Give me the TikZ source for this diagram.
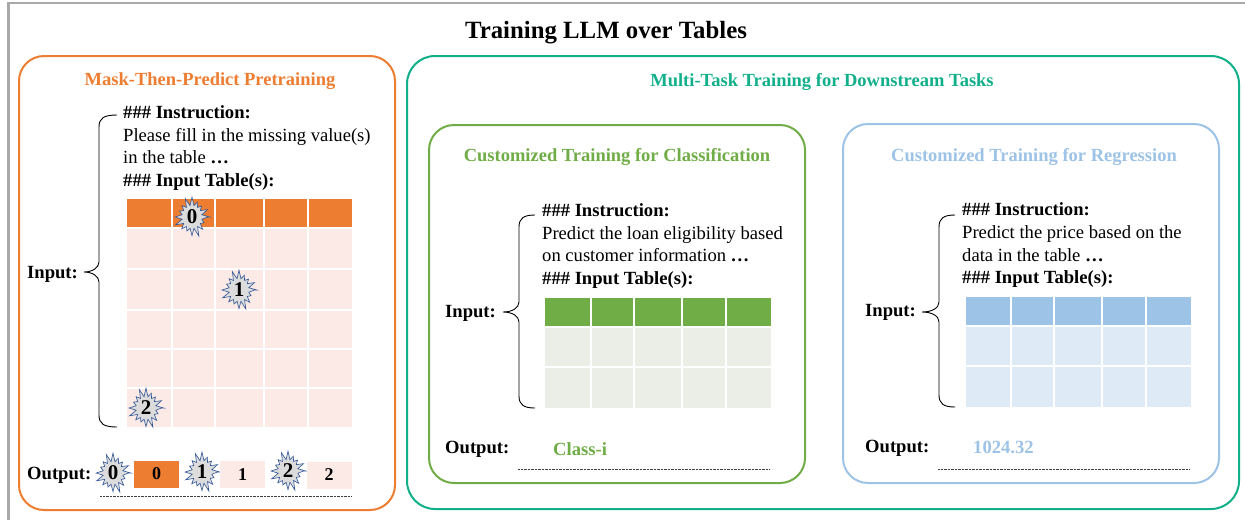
\documentclass[tikz,border=0pt]{standalone}
\usepackage{fontspec}
\setmainfont{Liberation Serif}
\usetikzlibrary{calc}
\definecolor{cOrange}{HTML}{ED7D31}
\definecolor{cTeal}{HTML}{12B08A}
\definecolor{cGreen}{HTML}{70AD47}
\definecolor{cBlue}{HTML}{9DC3E6}
\definecolor{cPink}{HTML}{FBEAE6}
\definecolor{cGreenBody}{HTML}{EAEEE7}
\definecolor{cBlueBody}{HTML}{DEEAF6}
\definecolor{cFrame}{HTML}{A9A9A9}
\definecolor{cBurstLine}{HTML}{2F5597}
\definecolor{cBurstFill}{HTML}{DCDCDC}
\newcommand\burstat[4]{%
  \draw[burstshape] plot[domain=0:360, samples=33] ({#2+brad(\x)*cos(\x)}, {#3+1.15*brad(\x)*sin(\x)}) -- cycle;
  \node[bursttext] (#1) at (#2,#3) {#4};
}
\newcommand\mkbrace[6]{% endx, topy, vertx, tipx, tipy, boty
  \draw[brace] (#1,#2) .. controls (#3+5,#2) and (#3,#2+3) .. (#3,#2+12)
    -- (#3,#5-10) .. controls (#3,#5-4) and (#3-7,#5) .. (#4,#5)
    .. controls (#3-7,#5) and (#3,#5+4) .. (#3,#5+10)
    -- (#3,#6-12) .. controls (#3,#6-3) and (#3+5,#6) .. (#1,#6);
}
\begin{document}
\begin{tikzpicture}[x=1pt,y=-1pt,
  panel/.style={line width=2pt, rounded corners=25pt},
  ptitle/.style={font=\fontsize{18.5}{22}\selectfont\bfseries, anchor=base, inner sep=0},
  body/.style={font=\fontsize{18.6}{22}\selectfont, anchor=base west, inner sep=0},
  bodyb/.style={font=\fontsize{18.6}{22}\selectfont\bfseries, anchor=base west, inner sep=0},
  brace/.style={draw=black, line width=0.9pt},
  dotline/.style={draw=black!75, line width=0.8pt, dash pattern=on 0.7pt off 0.7pt},
  burstshape/.style={draw=cBurstLine, fill=cBurstFill, line width=0.6pt, line join=miter},
  bursttext/.style={font=\fontsize{21}{22}\selectfont\bfseries, inner sep=0},
  cellline/.style={draw=white, line width=1.2pt},
  outbox/.style={minimum width=45pt, minimum height=27pt, inner sep=0, font=\fontsize{18}{20}\selectfont\bfseries},
  declare function={brad(\a)=(isodd(round(\a/11.25))?10:(15.5+2.5*sin(137*round(\a/11.25))));}
]
\useasboundingbox (0,0) rectangle (1245,520);
\fill[white] (0,0) rectangle (1245,520);
% frame
\draw[cFrame, line width=2.7pt] (8.5,520) -- (8.5,3) -- (1245,3);
% title
\node[font=\fontsize{24.8}{28}\selectfont\bfseries, anchor=base, inner sep=0] (title) at (606,38) {Training LLM over Tables};

% panels
\draw[panel, draw=cOrange] (19,56) rectangle (395,510);
\draw[panel, draw=cTeal, rounded corners=28pt] (407,56) rectangle (1239,509);
\draw[panel, draw=cGreen] (429,125) rectangle (805,483);
\draw[panel, draw=cBlue] (843,124) rectangle (1219,483);

\node[ptitle, text=cOrange] (t1) at (210,85) {Mask-Then-Predict Pretraining};
\node[ptitle, text=cTeal] (t2) at (822,86) {Multi-Task Training for Downstream Tasks};
\node[ptitle, text=cGreen] (t3) at (617,161) {Customized Training for Classification};
\node[ptitle, text=cBlue] (t4) at (1034,161) {Customized Training for Regression};

% ---------- left panel ----------
\node[bodyb] (l1) at (123,118) {\#\#\# Instruction:};
\node[body] (l2) at (123,141) {Please fill in the missing value(s)};
\node[body] (l3) at (123,163) {in the table \textbf{\dots}};
\node[bodyb] (l4) at (123,186) {\#\#\# Input Table(s):};
\node[bodyb] (lin) at (27,278) {Input:};
\mkbrace{117}{115}{99}{84}{272}{427}

\fill[cOrange] (127,199) rectangle (352,227);
\fill[cPink] (127,227) rectangle (352,427);
\draw[draw=white, line width=2.5pt] (127,228) -- (352,228);
\foreach \yy in {269,310,349,388} \draw[cellline] (127,\yy) -- (352,\yy);
\foreach \xx in {172,215,264,308} \draw[cellline] (\xx,199) -- (\xx,427);

\burstat{b0}{192}{217}{0}
\burstat{b1}{239}{290}{1}
\burstat{b2}{146}{408}{2}

\node[bodyb] (lout) at (27,479) {Output:};
\burstat{ob0}{113}{473}{0}
\node[outbox, fill=cOrange] (o0) at (156.5,474) {0};
\burstat{ob1}{202}{472}{1}
\node[outbox, fill=cPink] (o1) at (242.5,474.5) {1};
\burstat{ob2}{288}{471}{2}
\node[outbox, fill=cPink] (o2) at (329,475) {2};
\coordinate (ld1) at (100,496);
\coordinate (ld2) at (351,496);
\draw[dotline] (ld1) -- (ld2);

% ---------- classification panel ----------
\node[bodyb] (g1) at (542,216) {\#\#\# Instruction:};
\node[body] (g2) at (542,239) {Predict the loan eligibility based};
\node[body] (g3) at (542,261) {on customer information \textbf{\dots}};
\node[bodyb] (g4) at (542,284) {\#\#\# Input Table(s):};
\node[bodyb] (gin) at (445,317) {Input:};
\mkbrace{535}{215}{519}{503}{312}{408}

\fill[cGreen] (545,298) rectangle (771,326);
\fill[cGreenBody] (545,326) rectangle (771,408);
\draw[draw=white, line width=2.5pt] (545,327) -- (771,327);
\draw[cellline] (545,367) -- (771,367);
\foreach \xx in {591,634,682,726} \draw[cellline] (\xx,298) -- (\xx,408);

\node[bodyb] (gout) at (445,453) {Output:};
\node[bodyb, text=cGreen] (gres) at (553,455) {Class-i};
\coordinate (gd1) at (518,469);
\coordinate (gd2) at (770,469);
\draw[dotline] (gd1) -- (gd2);

% ---------- regression panel ----------
\node[bodyb] (r1) at (962,215) {\#\#\# Instruction:};
\node[body] (r2) at (962,238) {Predict the price based on the};
\node[body] (r3) at (962,261) {data in the table \textbf{\dots}};
\node[bodyb] (r4) at (962,283) {\#\#\# Input Table(s):};
\node[bodyb] (rin) at (865,316) {Input:};
\mkbrace{955}{215}{939}{922}{312}{407}

\fill[cBlue] (966,297) rectangle (1191,325);
\fill[cBlueBody] (966,325) rectangle (1191,407);
\draw[draw=white, line width=2.5pt] (966,326) -- (1191,326);
\draw[cellline] (966,366) -- (1191,366);
\foreach \xx in {1011,1054,1102,1146} \draw[cellline] (\xx,297) -- (\xx,407);

\node[bodyb] (rout) at (865,452) {Output:};
\node[bodyb, text=cBlue] (rres) at (973,453) {1024.32};
\coordinate (rd1) at (938,469);
\coordinate (rd2) at (1190,469);
\draw[dotline] (rd1) -- (rd2);
\end{tikzpicture}
\end{document}
